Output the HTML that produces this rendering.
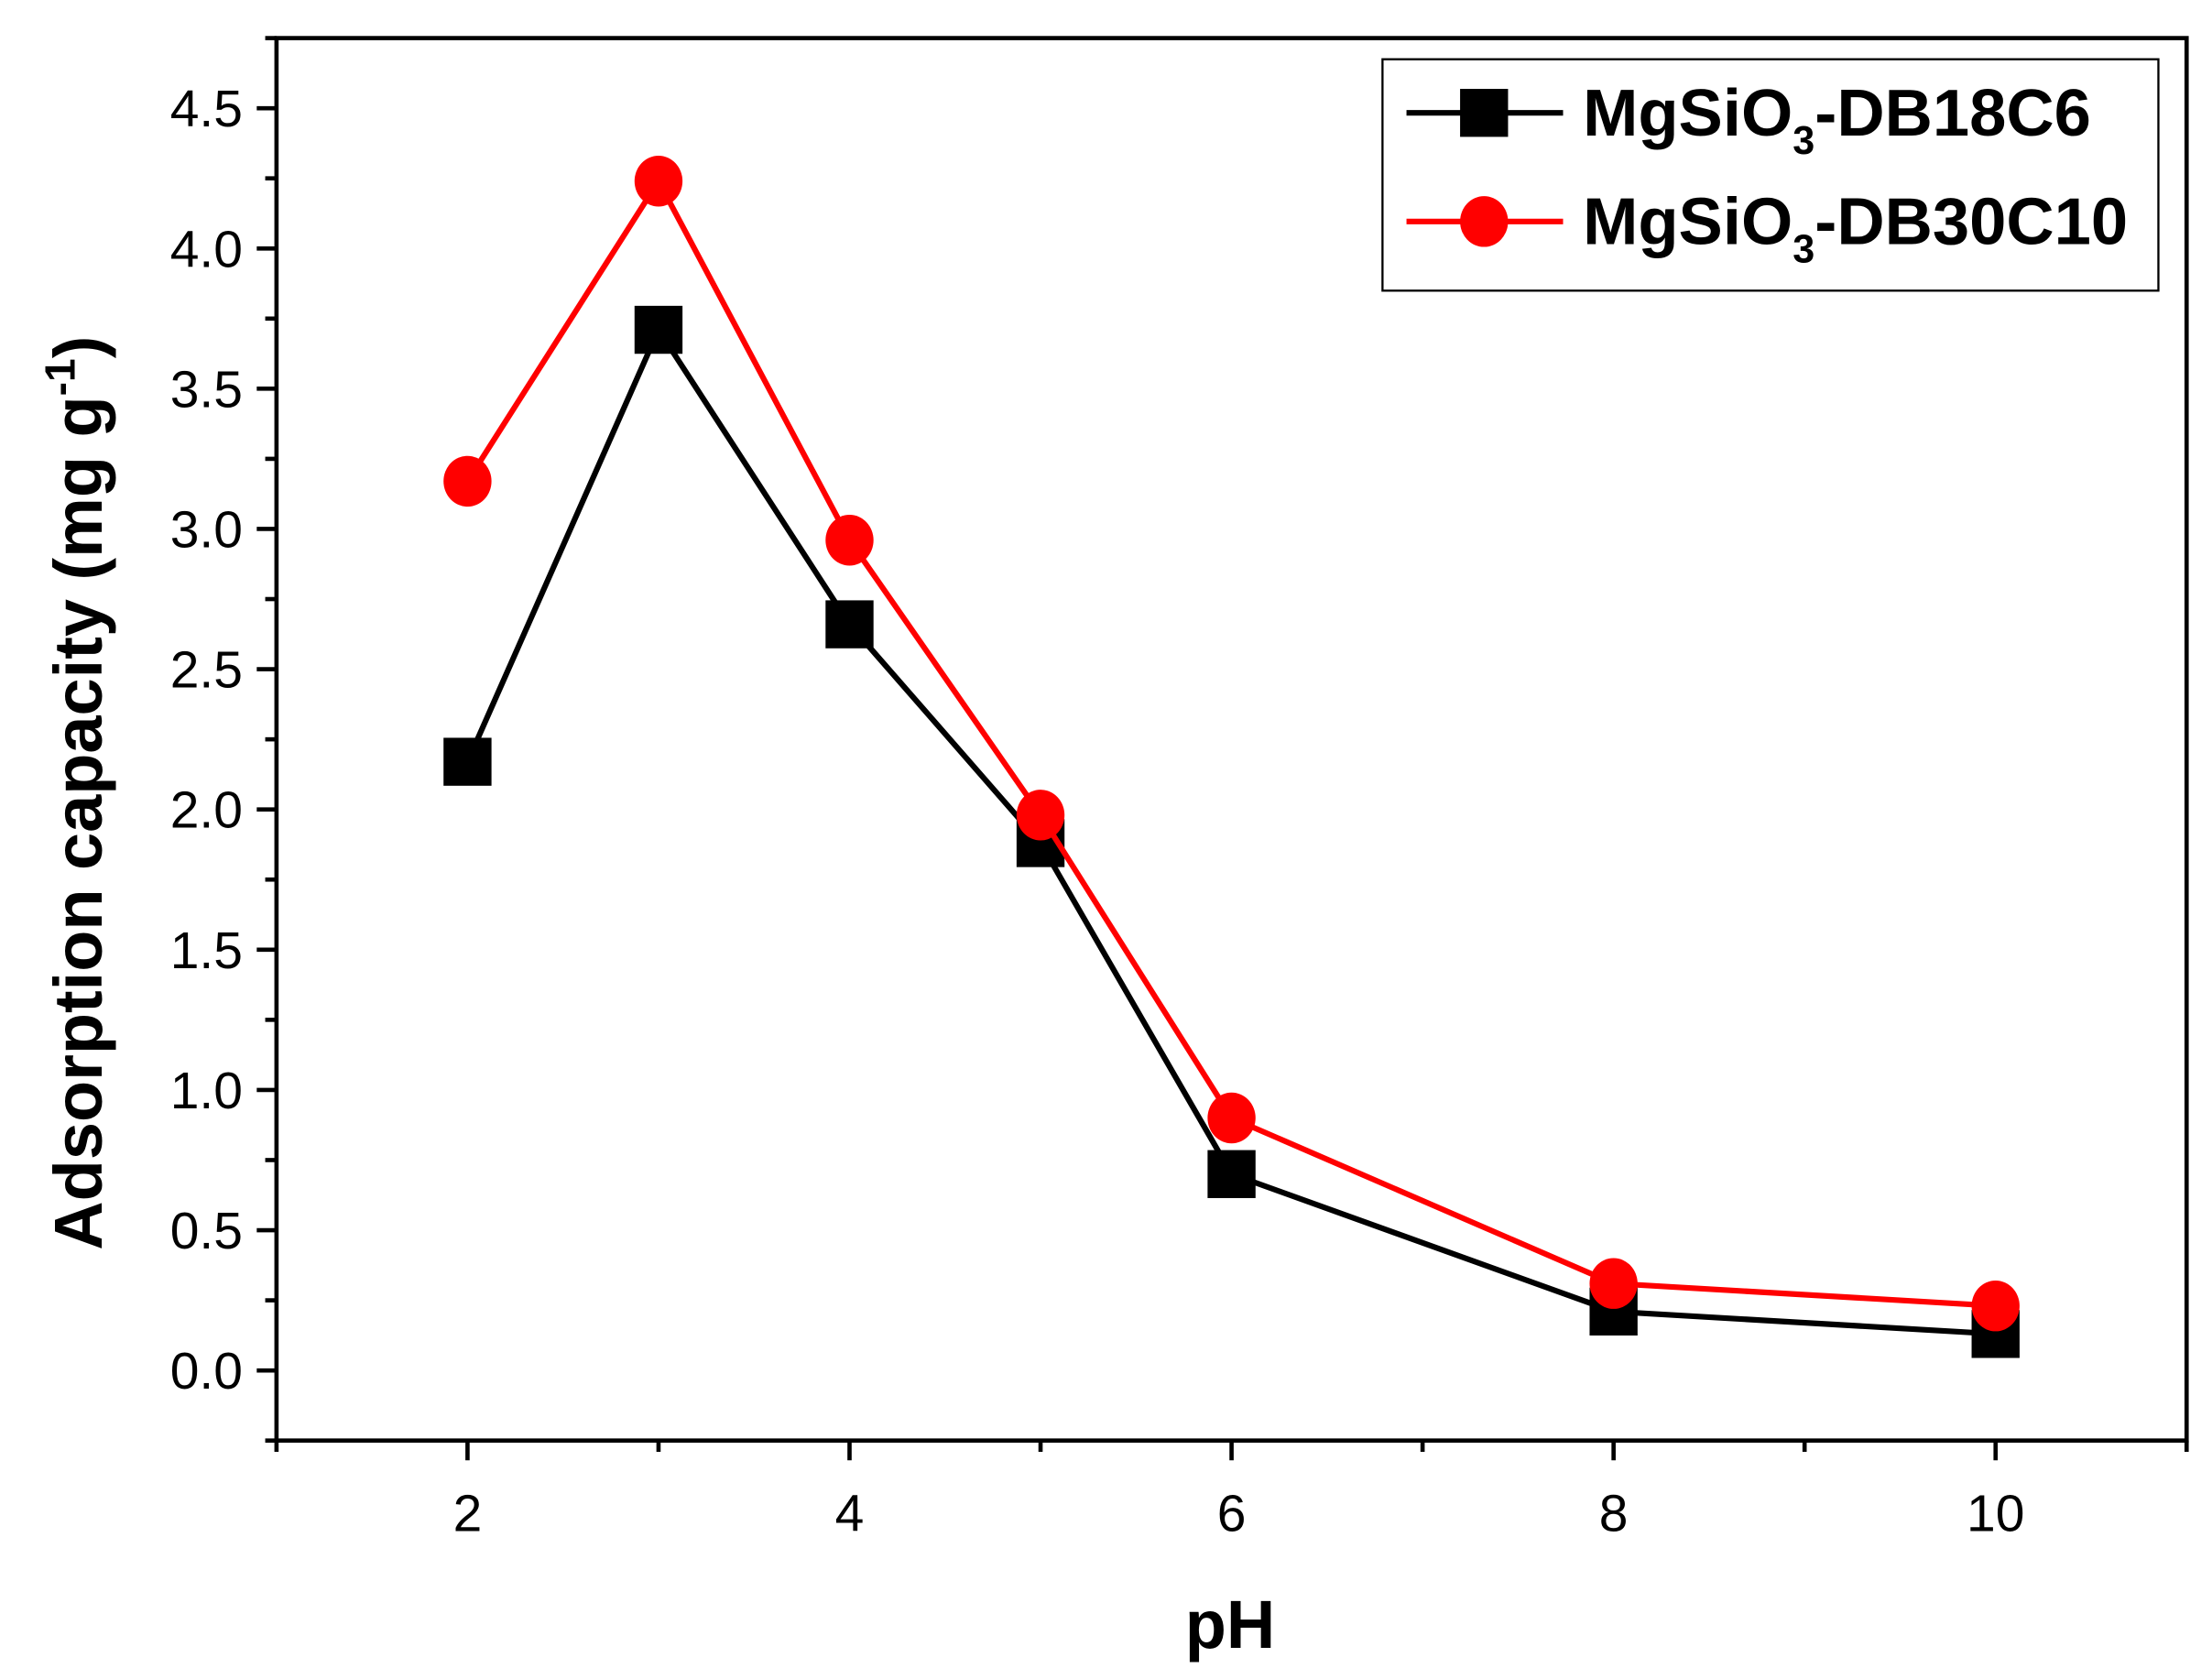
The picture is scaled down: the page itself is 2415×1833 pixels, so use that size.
<!DOCTYPE html>
<html><head><meta charset="utf-8"><style>
html,body{margin:0;padding:0;background:#fff}
svg{display:block}
text{font-family:"Liberation Sans",Arial,sans-serif;fill:#000}
</style></head><body>
<svg id="chart" width="2415" height="1833" viewBox="0 0 1568 1190" preserveAspectRatio="none" xmlns="http://www.w3.org/2000/svg">
<rect x="196" y="27" width="1354" height="994" fill="none" stroke="#000" stroke-width="3"/>
<g id="ticks"></g>
<g id="series"></g>
<text x="72" y="562" font-size="48" font-weight="bold" text-anchor="middle" transform="rotate(-90 72 562)">Adsorption capacity (mg g<tspan dy="-19" font-size="30">-1</tspan><tspan dy="19">)</tspan></text>
<text x="872" y="1168" font-size="48" font-weight="bold" text-anchor="middle">pH</text>
<g>
<rect x="980" y="42" width="550" height="164" fill="#fff" stroke="#000" stroke-width="1.5"/>
<g>
<line x1="997" y1="80" x2="1108" y2="80" stroke="#000" stroke-width="4"/>
<rect x="1035" y="63" width="34" height="34" fill="#000"/>
<text x="1122" y="96" font-size="47" font-weight="bold">MgSiO<tspan dy="13" font-size="28">3</tspan><tspan dy="-13">-DB18C6</tspan></text>
</g>
<g>
<line x1="997" y1="157" x2="1108" y2="157" stroke="#f00" stroke-width="4"/>
<ellipse cx="1052" cy="157" rx="17" ry="18" fill="#f00"/>
<text x="1122" y="173" font-size="47" font-weight="bold">MgSiO<tspan dy="13" font-size="28">3</tspan><tspan dy="-13">-DB30C10</tspan></text>
</g>
</g>
</svg>
<script>
const phValues = [2, 3, 4, 5, 6, 8, 10];
const db18c6Values = [2.17, 3.71, 2.66, 1.88, 0.70, 0.21, 0.13];
const db30c10Values = [3.17, 4.24, 2.96, 1.98, 0.90, 0.31, 0.23];
const xTickLabels = ["2", "4", "6", "8", "10"];
const yTickLabels = ["0.0", "0.5", "1.0", "1.5", "2.0", "2.5", "3.0", "3.5", "4.0", "4.5"];

const NS = "http://www.w3.org/2000/svg";
const X0 = 196, X1 = 1550, Y0 = 1021, Y1 = 27;
const xMin = 1, xMax = 11, yMin = -0.25, yMax = 4.75;
function xScale(v){ return X0 + (v - xMin) / (xMax - xMin) * (X1 - X0); }
function yScale(v){ return Y0 - (v - yMin) / (yMax - yMin) * (Y0 - Y1); }
function mk(tag, attrs, parent){ const e = document.createElementNS(NS, tag); for (const k in attrs) e.setAttribute(k, attrs[k]); parent.appendChild(e); return e; }

const ticks = document.getElementById('ticks');
for (let v = 1; v <= 11; v++) {
  const x = xScale(v);
  const major = xTickLabels.includes(String(v));
  const t = mk('line', {x1: x, y1: Y0, x2: x, y2: Y0 + (major ? 14 : 8), stroke: '#000', 'stroke-width': 3}, ticks);
  
  
}
xTickLabels.forEach(l => {
  const t = mk('text', {x: xScale(+l), y: 1085, 'font-size': 37, 'text-anchor': 'middle'}, ticks);
  t.textContent = l;
  
  
});
for (let i = -1; i <= 19; i++) {
  const v = i * 0.25;
  const y = yScale(v);
  const major = i % 2 === 0 && i >= 0;
  const t = mk('line', {x1: X0 - (major ? 14 : 8), y1: y, x2: X0, y2: y, stroke: '#000', 'stroke-width': 3}, ticks);
  
  
}
yTickLabels.forEach(l => {
  const t = mk('text', {x: 172, y: yScale(+l) + 13, 'font-size': 37, 'text-anchor': 'end'}, ticks);
  t.textContent = l;
  
  
});

const series = document.getElementById('series');
function drawSeries(vals, color, shape, name){
  const g = mk('g', {}, series);
  
  
  const pts = phValues.map((p, i) => xScale(p) + ',' + yScale(vals[i])).join(' ');
  const pl = mk('polyline', {points: pts, fill: 'none', stroke: color, 'stroke-width': 4}, g);
  
  
  phValues.forEach((p, i) => {
    const cx = xScale(p), cy = yScale(vals[i]);
    let m;
    if (shape === 'square') m = mk('rect', {x: cx - 17, y: cy - 17, width: 34, height: 34, fill: color}, g);
    else m = mk('ellipse', {cx: cx, cy: cy, rx: 17, ry: 18, fill: color}, g);
    
    
  });
}
drawSeries(db18c6Values, '#000', 'square', 'series-db18c6');
drawSeries(db30c10Values, '#f00', 'circle', 'series-db30c10');
</script>
</body></html>
